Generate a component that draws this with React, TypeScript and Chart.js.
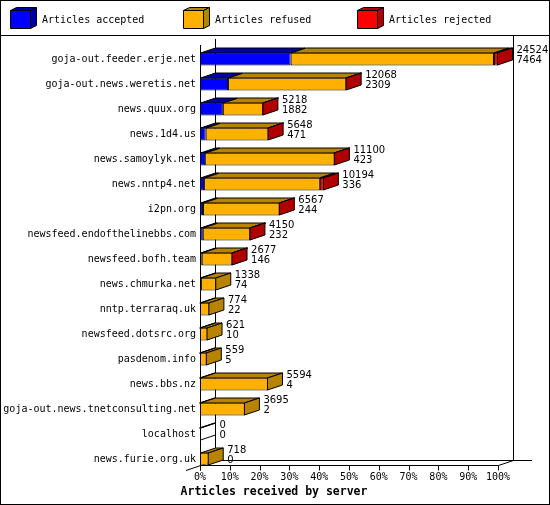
import { useEffect, useRef } from "react";
import {
  Chart,
  BarController,
  BarElement,
  CategoryScale,
  LinearScale,
  Plugin,
} from "chart.js";

Chart.register(BarController, BarElement, CategoryScale, LinearScale);

const hosts = [
  "goja-out.feeder.erje.net",
  "goja-out.news.weretis.net",
  "news.quux.org",
  "news.1d4.us",
  "news.samoylyk.net",
  "news.nntp4.net",
  "i2pn.org",
  "newsfeed.endofthelinebbs.com",
  "newsfeed.bofh.team",
  "news.chmurka.net",
  "nntp.terraraq.uk",
  "newsfeed.dotsrc.org",
  "pasdenom.info",
  "news.bbs.nz",
  "goja-out.news.tnetconsulting.net",
  "localhost",
  "news.furie.org.uk",
];

// offered / accepted are printed next to the bars, rejected is estimated from the picture
const offered = [24524, 12068, 5218, 5648, 11100, 10194, 6567, 4150, 2677, 1338, 774, 621, 559, 5594, 3695, 0, 718];
const accepted = [7464, 2309, 1882, 471, 423, 336, 244, 232, 146, 74, 22, 10, 5, 4, 2, 0, 0];
const rejected = [330, 30, 20, 20, 30, 330, 20, 15, 10, 0, 0, 0, 0, 0, 0, 0, 0];
const refused = offered.map((o, i) => o - accepted[i] - rejected[i]);

const seriesNames = ["Articles accepted", "Articles refused", "Articles rejected"];
const xTicks = [0, 10, 20, 30, 40, 50, 60, 70, 80, 90, 100];

const faceColors = ["#0000ff", "#ffb000", "#ff0000"];
const shadeColors = ["#0000a8", "#b88400", "#b00000"];

const maxOffered = Math.max(...offered);
const pct = (v: number) => (v / maxOffered) * 100;

const DX = 15;
const DY = 5;
const MONO = "'DejaVu Sans Mono', monospace";
const SANS = "'DejaVu Sans', sans-serif";

function poly(ctx: CanvasRenderingContext2D, pts: number[][], fill?: string) {
  ctx.beginPath();
  ctx.moveTo(pts[0][0], pts[0][1]);
  for (let i = 1; i < pts.length; i++) ctx.lineTo(pts[i][0], pts[i][1]);
  ctx.closePath();
  if (fill) {
    ctx.fillStyle = fill;
    ctx.fill();
  }
  ctx.strokeStyle = "#000";
  ctx.lineWidth = 1;
  ctx.stroke();
}

function line(ctx: CanvasRenderingContext2D, x1: number, y1: number, x2: number, y2: number) {
  ctx.beginPath();
  ctx.moveTo(x1, y1);
  ctx.lineTo(x2, y2);
  ctx.stroke();
}

const backgroundPlugin: Plugin<"bar"> = {
  id: "background",
  beforeDraw(chart) {
    const ctx = chart.ctx;
    ctx.save();
    ctx.fillStyle = "#fff";
    ctx.fillRect(0, 0, chart.width, chart.height);
    ctx.restore();
  },
};

const framePlugin: Plugin<"bar"> = {
  id: "frame3d",
  beforeDatasetsDraw(chart) {
    const ctx = chart.ctx;
    const { left, right } = chart.chartArea;
    const yScale = chart.scales.y;
    const xScale = chart.scales.x;
    const floor = Math.round(yScale.getPixelForValue(hosts.length - 1) + 6) + 0.5;
    ctx.save();
    ctx.strokeStyle = "#000";
    ctx.lineWidth = 1;
    const fl = left + 0.5;
    const bl = left + DX + 0.5;
    const br = right + DX + 0.5;
    // walls
    line(ctx, fl, 45, fl, floor + 5);
    line(ctx, bl, 39, bl, floor - DY);
    line(ctx, br, 35, br, floor - DY);
    // floor
    line(ctx, bl, floor - DY, 532, floor - DY);
    line(ctx, bl, floor - DY, 186, floor + 5);
    line(ctx, fl, floor, right + 0.5, floor);
    line(ctx, right + 0.5, floor, br, floor - DY);
    xTicks.forEach((v) => {
      const x = Math.round(xScale.getPixelForValue(v)) + 0.5;
      line(ctx, x, floor, x, floor + 5);
    });
    ctx.restore();
  },
};

const facesPlugin: Plugin<"bar"> = {
  id: "faces3d",
  afterDatasetsDraw(chart) {
    const ctx = chart.ctx;
    const metas = [0, 1, 2].map((i) => chart.getDatasetMeta(i));
    const series = [accepted, refused, rejected];
    ctx.save();
    hosts.forEach((_, j) => {
      let last = -1;
      let endX = chart.chartArea.left;
      let topY = 0;
      let botY = 0;
      metas.forEach((meta, i) => {
        const el: any = meta.data[j];
        const p = el.getProps(["x", "y", "base", "height"], true);
        const x0 = Math.min(p.x, p.base);
        const x1 = Math.max(p.x, p.base);
        topY = p.y - p.height / 2 + 0.5;
        botY = p.y + p.height / 2 - 0.5;
        if (series[i][j] > 0 || (i === 0 && offered[j] === 0)) {
          poly(
            ctx,
            [
              [x0 + 0.5, topY],
              [x1 - 0.5, topY],
              [x1 - 0.5 + DX, topY - DY],
              [x0 + 0.5 + DX, topY - DY],
            ],
            shadeColors[i]
          );
        }
        if (series[i][j] > 0) last = i;
        endX = Math.max(endX, x1);
      });
      const sx = Math.max(endX - 0.5, chart.chartArea.left + 0.5);
      poly(
        ctx,
        [
          [sx, topY],
          [sx + DX, topY - DY],
          [sx + DX, botY - DY],
          [sx, botY],
        ],
        last >= 0 ? shadeColors[last] : undefined
      );
      // value labels
      const cy = (topY + botY) / 2;
      ctx.fillStyle = "#000";
      ctx.font = `10px ${SANS}`;
      ctx.textAlign = "left";
      ctx.textBaseline = "middle";
      ctx.fillText(String(offered[j]), sx + DX + 4, cy - 9);
      ctx.fillText(String(accepted[j]), sx + DX + 4, cy + 1.5);
    });
    ctx.restore();
  },
};

const decorPlugin: Plugin<"bar"> = {
  id: "decor",
  afterDraw(chart) {
    const ctx = chart.ctx;
    ctx.save();
    ctx.strokeStyle = "#000";
    ctx.lineWidth = 1;
    ctx.strokeRect(0.5, 0.5, chart.width - 1, chart.height - 1);
    line(ctx, 0, 35.5, chart.width, 35.5);

    // legend with small 3d boxes
    const legendX = [10, 183, 357];
    seriesNames.forEach((name, i) => {
      const bx = legendX[i] + 0.5;
      const by = 10.5;
      poly(ctx, [[bx, by], [bx + 20, by], [bx + 20, by + 18], [bx, by + 18]], faceColors[i]);
      poly(ctx, [[bx, by], [bx + 20, by], [bx + 26, by - 3], [bx + 6, by - 3]], shadeColors[i]);
      poly(ctx, [[bx + 20, by], [bx + 26, by - 3], [bx + 26, by + 15], [bx + 20, by + 18]], shadeColors[i]);
      ctx.fillStyle = "#000";
      ctx.font = `10px ${MONO}`;
      ctx.textAlign = "left";
      ctx.textBaseline = "middle";
      ctx.fillText(name, legendX[i] + 32, 20);
    });

    // axis title
    ctx.font = `bold 11.5px ${MONO}`;
    ctx.textAlign = "center";
    ctx.textBaseline = "middle";
    ctx.fillStyle = "#000";
    ctx.fillText("Articles received by server", 274, 492);
    ctx.restore();
  },
};

export default function App() {
  const canvasRef = useRef<HTMLCanvasElement>(null);
  const chartRef = useRef<Chart<"bar"> | null>(null);

  useEffect(() => {
    if (!canvasRef.current) return;
    const series = [accepted, refused, rejected];

    chartRef.current = new Chart(canvasRef.current, {
      type: "bar",
      data: {
        labels: hosts,
        datasets: series.map((s, i) => ({
          label: seriesNames[i],
          data: s.map(pct),
          backgroundColor: faceColors[i],
          borderColor: "#000",
          borderWidth: 1,
          borderSkipped: false,
          inflateAmount: 0,
          barThickness: 13,
          stack: "all",
        })),
      },
      options: {
        indexAxis: "y",
        responsive: false,
        animation: false,
        devicePixelRatio: 1,
        events: [],
        layout: {
          padding: { top: 46.5, right: 52, left: 0, bottom: 0 },
        },
        scales: {
          x: {
            type: "linear",
            stacked: true,
            min: 0,
            max: 100,
            grid: { display: false, drawTicks: false },
            border: { display: false },
            ticks: {
              stepSize: 10,
              padding: 0,
              autoSkip: false,
              maxRotation: 0,
              minRotation: 0,
              color: "#000",
              font: { family: MONO, size: 10 },
              callback: (v) => `${v}%`,
            },
            afterFit: (s) => {
              s.height = 33.5;
            },
          },
          y: {
            type: "category",
            stacked: true,
            offset: true,
            grid: { display: false, drawTicks: false },
            border: { display: false },
            ticks: {
              autoSkip: false,
              padding: 4,
              color: "#000",
              font: { family: MONO, size: 10 },
            },
            afterFit: (s) => {
              s.width = 200;
            },
          },
        },
        plugins: {
          legend: { display: false },
          tooltip: { enabled: false },
        },
      },
      plugins: [backgroundPlugin, framePlugin, facesPlugin, decorPlugin],
    });

    return () => {
      chartRef.current?.destroy();
      chartRef.current = null;
    };
  }, []);

  return (
    <div style={{ position: "fixed", left: 0, top: 0 }}>
      <canvas ref={canvasRef} width={550} height={505} />
    </div>
  );
}
